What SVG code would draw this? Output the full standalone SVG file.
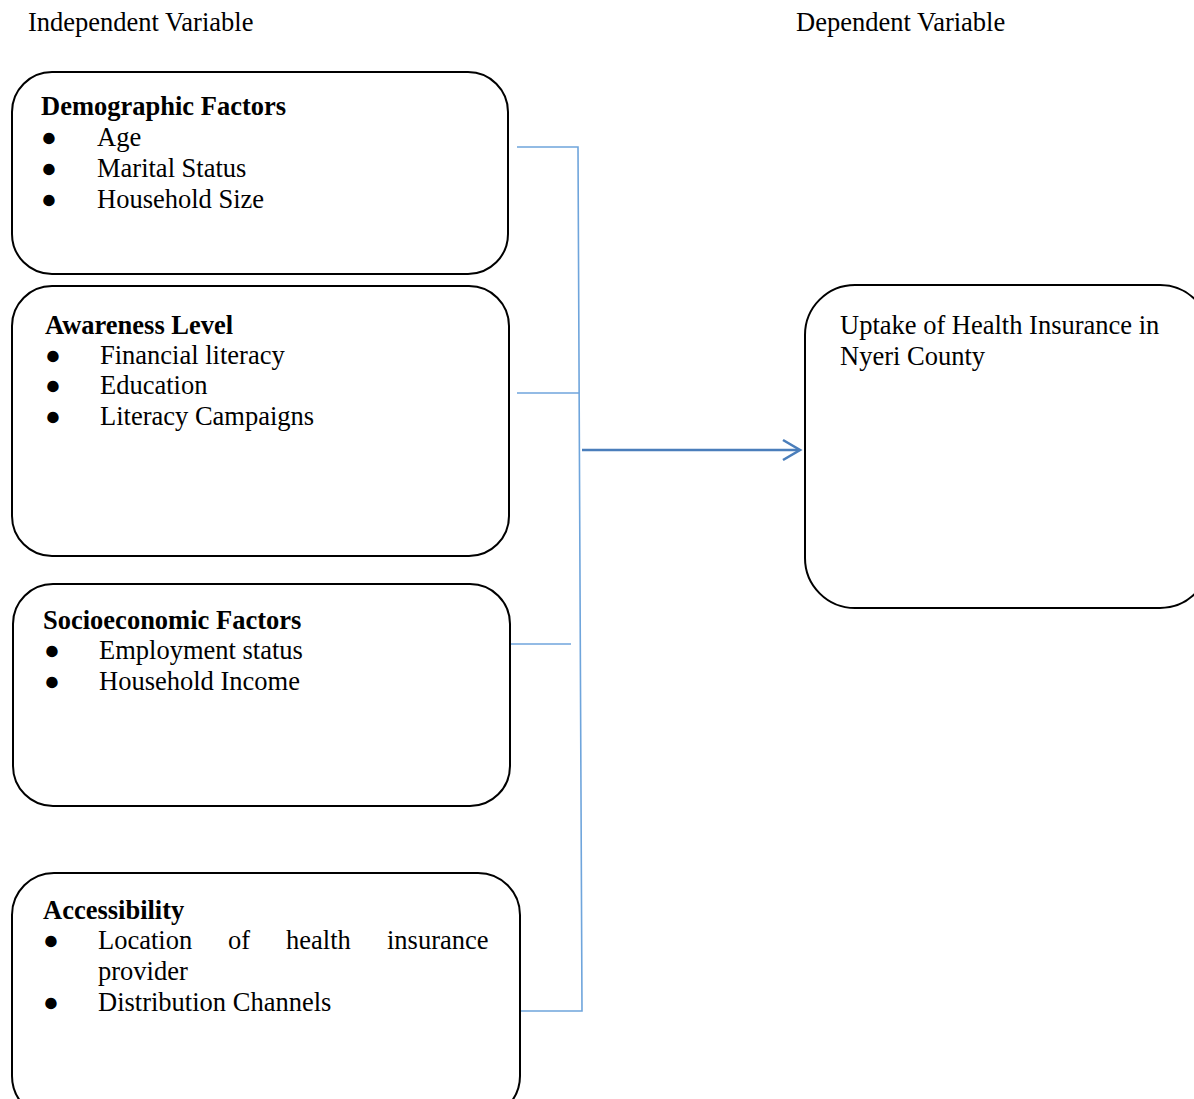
<svg xmlns="http://www.w3.org/2000/svg" width="1194" height="1099" viewBox="0 0 1194 1099">
<style>
text{font-family:"Liberation Serif","Times New Roman",serif;font-size:26.5px;fill:#000}
.b{font-weight:bold}
.box{fill:#fff;stroke:#000;stroke-width:2}
.con{fill:none;stroke:#6fa5dc;stroke-width:1.6}
.arr{fill:none;stroke:#4a7ebb;stroke-width:2.6}
</style>
<rect width="1194" height="1099" fill="#fff"/>
<text x="28" y="31">Independent Variable</text>
<text x="796" y="31">Dependent Variable</text>
<g id="demographic">
<rect class="box" x="12" y="72" width="496" height="202" rx="40"/>
<text class="b" x="41" y="115">Demographic Factors</text>
<text x="41" y="146">●</text><text x="97" y="146">Age</text>
<text x="41" y="177">●</text><text x="97" y="177">Marital Status</text>
<text x="41" y="208">●</text><text x="97" y="208">Household Size</text>
</g>
<g id="awareness">
<rect class="box" x="12" y="286" width="497" height="270" rx="40"/>
<text class="b" x="45" y="334">Awareness Level</text>
<text x="45" y="364">●</text><text x="100" y="364">Financial literacy</text>
<text x="45" y="394">●</text><text x="100" y="394">Education</text>
<text x="45" y="425">●</text><text x="100" y="425">Literacy Campaigns</text>
</g>
<g id="socioeconomic">
<rect class="box" x="13" y="584" width="497" height="222" rx="40"/>
<text class="b" x="43" y="629">Socioeconomic Factors</text>
<text x="44" y="659">●</text><text x="99" y="659">Employment status</text>
<text x="44" y="690">●</text><text x="99" y="690">Household Income</text>
</g>
<g id="accessibility">
<rect class="box" x="12" y="873" width="508" height="245" rx="42"/>
<text class="b" x="43" y="919">Accessibility</text>
<text x="43" y="949">●</text>
<text x="98" y="949">Location</text><text x="228" y="949">of</text><text x="286" y="949">health</text><text x="387" y="949">insurance</text>
<text x="98" y="980">provider</text>
<text x="43" y="1011">●</text><text x="98" y="1011">Distribution Channels</text>
</g>
<g id="uptake">
<rect class="box" x="805" y="285" width="405" height="323" rx="50"/>
<text x="840" y="334">Uptake of Health Insurance in</text>
<text x="840" y="365">Nyeri County</text>
</g>
<g id="connectors">
<polyline class="con" points="517,147 578,147 582,1011 521,1011"/>
<line class="con" x1="517" y1="393" x2="579" y2="393"/>
<line class="con" x1="511" y1="644" x2="571" y2="644"/>
<line class="arr" x1="582" y1="450" x2="799" y2="450"/>
<polyline class="arr" points="783,440 800,450 783,460"/>
</g>
</svg>
